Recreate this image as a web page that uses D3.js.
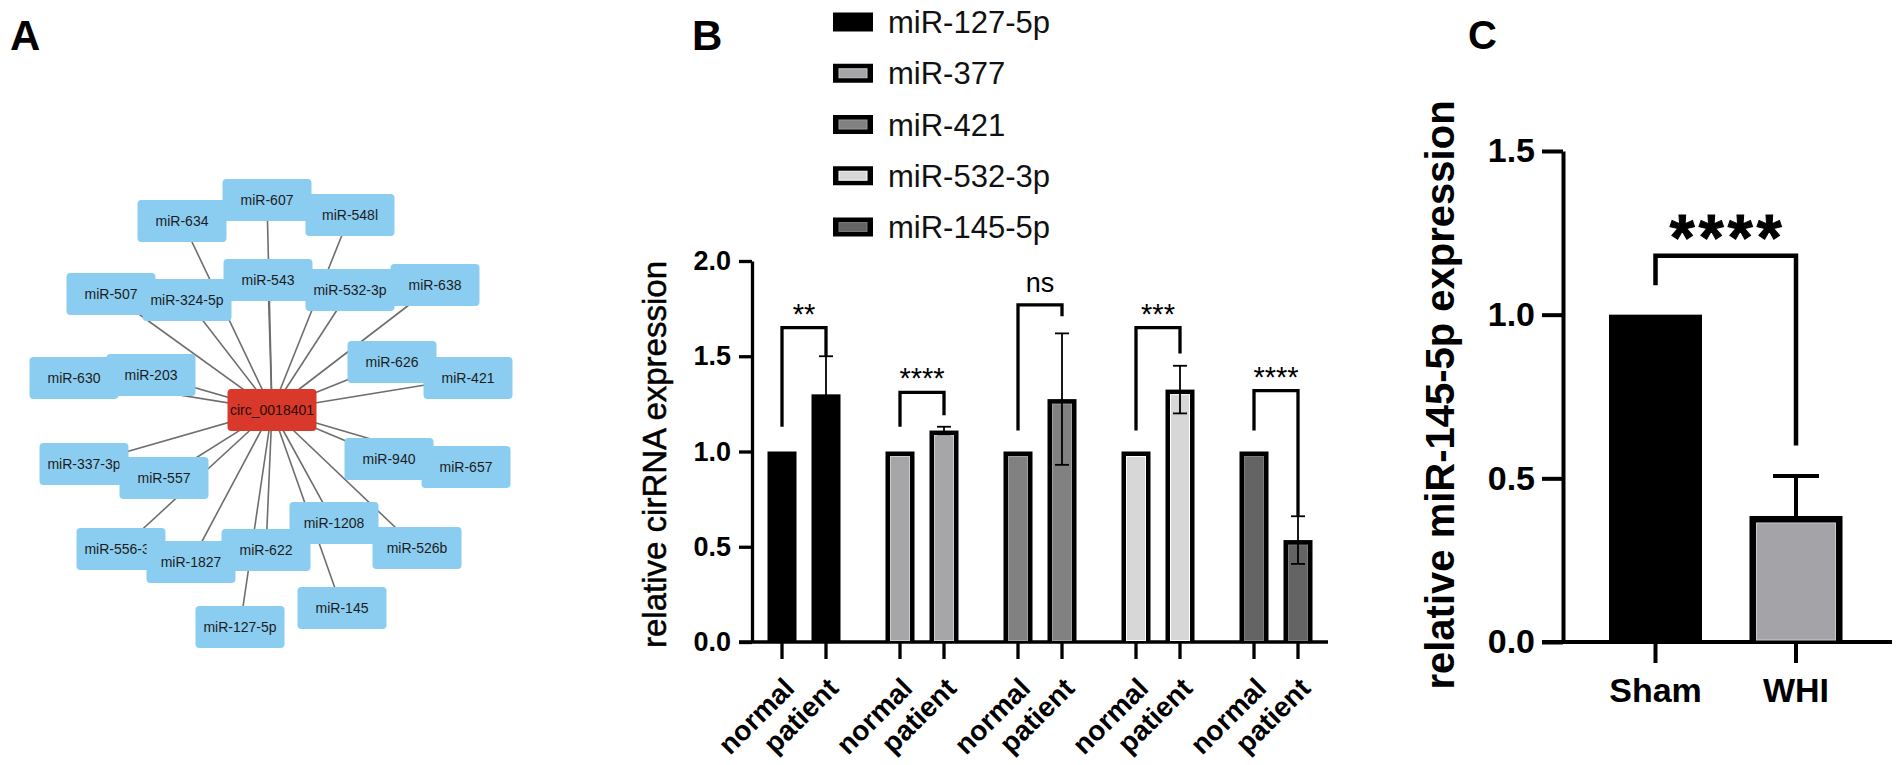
<!DOCTYPE html>
<html><head><meta charset="utf-8">
<script src="https://cdn.jsdelivr.net/npm/d3@7"></script>
<style>
html,body{margin:0;padding:0;background:#fff;}
svg{display:block;}
text{font-family:"Liberation Sans",Arial,Helvetica,sans-serif;}
</style>
</head><body>
<svg id="chart" width="1902" height="765"></svg>
<script>
// ---------------- DATA ----------------
// Panel A: interaction network (hub + miRNA nodes, layout offsets relative to hub)
const hubName = "circ_0018401";
const nodeNames = ["miR-607","miR-634","miR-548l","miR-507","miR-324-5p","miR-543","miR-532-3p","miR-638",
  "miR-630","miR-203","miR-626","miR-421","miR-337-3p","miR-557","miR-940","miR-657",
  "miR-556-3p","miR-1827","miR-622","miR-1208","miR-526b","miR-145","miR-127-5p"];
const layoutDX = [-5,-90,78,-161,-85,-4,78,163,-198,-121,120,196,-188,-108,117,194,-151,-81,-6,62,145,70,-32];
const layoutDY = [-210,-189,-195,-116,-110,-130,-120,-125,-32,-35,-48,-32,54,68,49,57,139,152,140,113,138,198,217];

// Panel B: grouped bars
const groups = ["miR-127-5p","miR-377","miR-421","miR-532-3p","miR-145-5p"];
const conditions = ["normal","patient"];
const normalMean = [1,1,1,1,1];
const patientMean = [1.30,1.11,1.275,1.325,0.535];
const patientErr = [0.20,0.02,0.345,0.125,0.125];
const sigLabels = ["**","****","ns","***","****"];
const bracketLeft = [1.13,1.13,1.11,1.11,1.11];
const bracketTop = [1.65,1.31,1.77,1.65,1.32];
const bracketRight = [1.50,1.19,1.71,1.515,0.66];
const yTicksB = [0,0.5,1,1.5,2];

// Panel C
const groupsC = ["Sham","WHI"];
const meanC = [1.0,0.385];
const errC = [0,0.122];
const sigC = "****";
const bracketC = [1.09,1.18,0.60];
const yTicksC = [0,0.5,1,1.5];

// ---------------- STYLES ----------------
const groupFills = ["#000000","#a6a6a9","#818181","#d7d7d7","#646464"];
const fillC = ["#000000","#a4a4a8"];

const svg = d3.select("#chart");
svg.append("rect").attr("width",1902).attr("height",765).attr("fill","#fff");

// ---------------- PANEL A ----------------
const gA = svg.append("g");
gA.append("text").attr("x",10).attr("y",50).attr("font-size",42).attr("font-weight","bold").text("A");
const hubX = 272, hubY = 410;
const netX = d3.scaleLinear().domain([-200,200]).range([hubX-200,hubX+200]);
const netY = d3.scaleLinear().domain([-200,200]).range([hubY-200,hubY+200]);
const nodes = nodeNames.map((n,i)=>({name:n, x:netX(layoutDX[i]), y:netY(layoutDY[i])}));
const nodeW = 89, nodeH = 42;
gA.selectAll("line.edge").data(nodes).join("line").attr("class","edge")
  .attr("x1",netX(0)).attr("y1",netY(0)).attr("x2",d=>d.x).attr("y2",d=>d.y)
  .attr("stroke","#6e6e6e").attr("stroke-width",1.6);
const ng = gA.selectAll("g.node").data(nodes).join("g").attr("class","node")
  .attr("transform",d=>`translate(${d.x},${d.y})`);
ng.append("rect").attr("x",-nodeW/2).attr("y",-nodeH/2).attr("width",nodeW).attr("height",nodeH)
  .attr("rx",4).attr("fill","#8bcdf0");
ng.append("text").attr("text-anchor","middle").attr("y",5).attr("font-size",14)
  .attr("fill","#1c1c1c").text(d=>d.name);
const hub = gA.append("g").attr("transform",`translate(${netX(0)},${netY(0)})`);
hub.append("rect").attr("x",-nodeW/2).attr("y",-nodeH/2).attr("width",nodeW).attr("height",nodeH)
  .attr("rx",4).attr("fill","#d8392a");
hub.append("text").attr("text-anchor","middle").attr("y",5).attr("font-size",14)
  .attr("fill","#2a0c08").text(hubName);

// ---------------- PANEL B ----------------
const gB = svg.append("g");
gB.append("text").attr("x",692).attr("y",50).attr("font-size",42).attr("font-weight","bold").text("B");
const yB = d3.scaleLinear().domain([0,2]).range([642,261]);
const xG = d3.scalePoint().domain(groups).range([804,1276]);
const xIn = d3.scalePoint().domain(conditions).range([-22,22]);
const barW = 29, lwB = 3.3;

// legend
const legY = d3.scalePoint().domain(groups).range([22,227]);
groups.forEach((g,i)=>{
  const cy = legY(g);
  gB.append("rect").attr("x",833).attr("y",cy-9.5).attr("width",40).attr("height",19).attr("fill","#000");
  if(i>0) gB.append("rect").attr("x",839).attr("y",cy-4.5).attr("width",28).attr("height",9)
    .attr("fill",groupFills[i]).attr("stroke",d3.color(groupFills[i]).brighter(0.5)).attr("stroke-width",1);
  gB.append("text").attr("x",888).attr("y",cy+11).attr("font-size",31).attr("fill","#111").text(g);
});

// axis
const axB = gB.append("g").attr("transform","translate(752,0)")
  .call(d3.axisLeft(yB).tickValues(yTicksB).tickFormat(d3.format(".1f")).tickSize(13).tickSizeOuter(0).tickPadding(8));
axB.select(".domain").attr("stroke","#000").attr("stroke-width",lwB);
axB.selectAll(".tick line").attr("stroke","#000").attr("stroke-width",lwB);
axB.selectAll(".tick text").attr("font-size",27).attr("font-weight","bold").attr("fill","#000")
  .attr("font-family",'"Liberation Sans",Arial,sans-serif');
gB.append("line").attr("x1",739).attr("x2",1328).attr("y1",yB(0)).attr("y2",yB(0))
  .attr("stroke","#000").attr("stroke-width",lwB);
gB.append("text").attr("transform",`translate(666,${(yB(0)+yB(2))/2+3}) rotate(-90)`)
  .attr("text-anchor","middle").attr("font-size",33).attr("fill","#000")
  .attr("stroke","#000").attr("stroke-width",0.5).text("relative cirRNA expression");

// bars
const barsB = [];
groups.forEach((g,i)=>{
  barsB.push({g, i, cond:"normal", v:normalMean[i], e:0});
  barsB.push({g, i, cond:"patient", v:patientMean[i], e:patientErr[i]});
});
barsB.forEach(b=>{
  const cx = xG(b.g)+xIn(b.cond);
  const y0 = yB(0), yt = yB(b.v);
  gB.append("rect").attr("x",cx-barW/2).attr("y",yt).attr("width",barW).attr("height",y0-yt).attr("fill","#000");
  if(b.i>0){
    gB.append("rect").attr("x",cx-barW/2+5).attr("y",yt+5).attr("width",barW-10).attr("height",y0-yt-6.5)
      .attr("fill",groupFills[b.i]).attr("stroke",d3.color(groupFills[b.i]).brighter(0.6)).attr("stroke-width",1);
  }
  if(b.e>0){
    const ya = yB(b.v-b.e), yb = yB(b.v+b.e);
    gB.append("line").attr("x1",cx).attr("x2",cx).attr("y1",ya).attr("y2",yb).attr("stroke","#000").attr("stroke-width",1.8);
    [ya,yb].forEach(yy=>gB.append("line").attr("x1",cx-7).attr("x2",cx+7).attr("y1",yy).attr("y2",yy)
      .attr("stroke","#000").attr("stroke-width",1.8));
  }
  gB.append("line").attr("x1",cx).attr("x2",cx).attr("y1",y0).attr("y2",y0+17).attr("stroke","#000").attr("stroke-width",lwB);
  gB.append("text").attr("transform",`translate(${cx+14},690) rotate(-45)`).attr("text-anchor","end")
    .attr("font-size",28).attr("font-weight","bold").attr("fill","#000").text(b.cond);
});

// brackets
groups.forEach((g,i)=>{
  const xl = xG(g)+xIn("normal"), xr = xG(g)+xIn("patient");
  gB.append("path").attr("d",`M${xl},${yB(bracketLeft[i])}V${yB(bracketTop[i])}H${xr}V${yB(bracketRight[i])}`)
    .attr("fill","none").attr("stroke","#000").attr("stroke-width",lwB);
  const isStar = sigLabels[i].includes("*");
  gB.append("text").attr("x",(xl+xr)/2).attr("y",yB(bracketTop[i]) - (isStar?4:13))
    .attr("text-anchor","middle").attr("font-size",isStar?29:27).attr("fill","#000").text(sigLabels[i]);
});

// ---------------- PANEL C ----------------
const gC = svg.append("g");
gC.append("text").attr("x",1468).attr("y",49).attr("font-size",40).attr("font-weight","bold").text("C");
const yC = d3.scaleLinear().domain([0,1.5]).range([642,151]);
const xC = d3.scalePoint().domain(groupsC).range([1655.5,1796]);
const barWC = 93, lwC = 4;
const axC = gC.append("g").attr("transform","translate(1563,0)")
  .call(d3.axisLeft(yC).tickValues(yTicksC).tickFormat(d3.format(".1f")).tickSize(21).tickSizeOuter(0).tickPadding(7));
axC.select(".domain").attr("stroke","#000").attr("stroke-width",lwC);
axC.selectAll(".tick line").attr("stroke","#000").attr("stroke-width",lwC);
axC.selectAll(".tick text").attr("font-size",34).attr("font-weight","bold").attr("fill","#000")
  .attr("font-family",'"Liberation Sans",Arial,sans-serif');
gC.append("line").attr("x1",1542).attr("x2",1892).attr("y1",yC(0)).attr("y2",yC(0))
  .attr("stroke","#000").attr("stroke-width",lwC);
gC.append("text").attr("transform",`translate(1454,395) rotate(-90)`).attr("text-anchor","middle")
  .attr("font-size",40).attr("font-weight","bold").attr("fill","#000").text("relative miR-145-5p expression");

groupsC.forEach((g,i)=>{
  const cx = xC(g), y0 = yC(0), yt = yC(meanC[i]);
  gC.append("rect").attr("x",cx-barWC/2).attr("y",yt).attr("width",barWC).attr("height",y0-yt).attr("fill","#000");
  if(i>0){
    gC.append("rect").attr("x",cx-barWC/2+7).attr("y",yt+7).attr("width",barWC-14).attr("height",y0-yt-9)
      .attr("fill",fillC[i]).attr("stroke",d3.color(fillC[i]).brighter(0.6)).attr("stroke-width",1);
  }
  if(errC[i]>0){
    const yb = yC(meanC[i]+errC[i]);
    gC.append("line").attr("x1",cx).attr("x2",cx).attr("y1",yt).attr("y2",yb).attr("stroke","#000").attr("stroke-width",lwC);
    gC.append("line").attr("x1",cx-23).attr("x2",cx+23).attr("y1",yb).attr("y2",yb).attr("stroke","#000").attr("stroke-width",lwC);
  }
  gC.append("line").attr("x1",cx).attr("x2",cx).attr("y1",y0).attr("y2",y0+21).attr("stroke","#000").attr("stroke-width",lwC);
  gC.append("text").attr("x",cx).attr("y",702).attr("text-anchor","middle").attr("font-size",34)
    .attr("font-weight","bold").attr("fill","#000").text(g);
});
{
  const xl = xC("Sham"), xr = xC("WHI");
  gC.append("path").attr("d",`M${xl},${yC(bracketC[0])}V${yC(bracketC[1])}H${xr}V${yC(bracketC[2])}`)
    .attr("fill","none").attr("stroke","#000").attr("stroke-width",4.5);
  gC.append("text").attr("x",(xl+xr)/2).attr("y",yC(bracketC[1])+4).attr("text-anchor","middle")
    .attr("font-size",64).attr("font-weight","bold").attr("textLength",112).attr("lengthAdjust","spacing")
    .attr("fill","#000").attr("stroke","#000").attr("stroke-width",1).text(sigC);
}
</script>
</body></html>
